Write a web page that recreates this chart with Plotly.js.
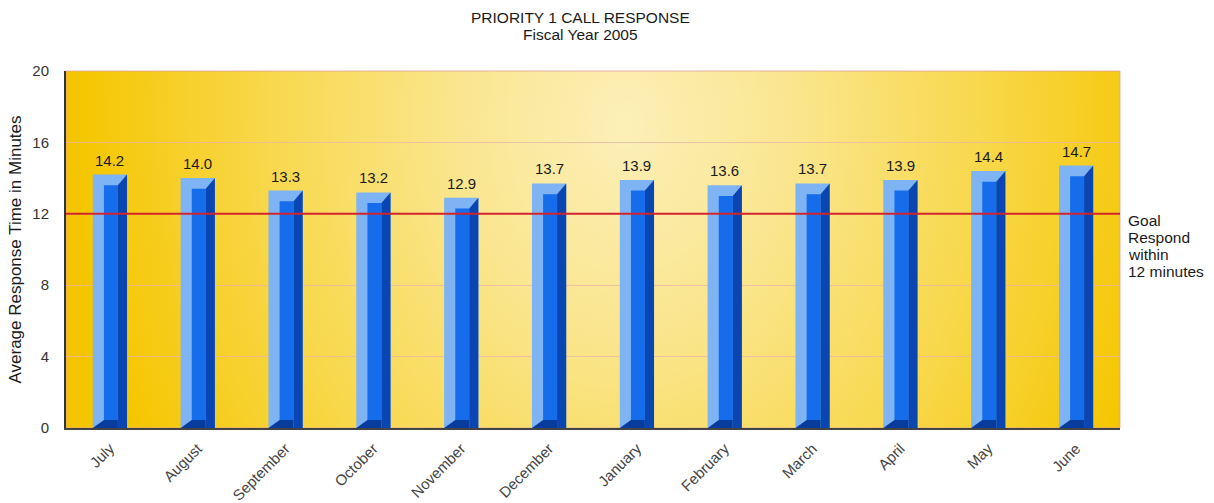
<!DOCTYPE html>
<html>
<head>
<meta charset="utf-8">
<script src="https://cdn.plot.ly/plotly-3.0.1.min.js"></script>
<style>html,body{margin:0;padding:0;background:#fff;}#chart{width:1214px;height:503px;}</style>
</head>
<body>
<div id="chart"></div>
<script>
var months = ["July","August","September","October","November","December","January","February","March","April","May","June"];
var responseTimes = [14.2, 14.0, 13.3, 13.2, 12.9, 13.7, 13.9, 13.6, 13.7, 13.9, 14.4, 14.7];
var goalMinutes = 12;
var yTicks = [0, 4, 8, 12, 16, 20];
var titleLines = ["PRIORITY 1 CALL RESPONSE", "Fiscal Year 2005"];
var goalLines = ["Goal", "Respond", "within", "12 minutes"];
var yTitle = "Average Response Time in Minutes";

// background gradient for the plot area
function makeGradient(w, h) {
  var c = document.createElement('canvas');
  c.width = w; c.height = h;
  var g = c.getContext('2d');
  g.fillStyle = '#F5C500';
  g.fillRect(0, 0, w, h);
  g.save();
  g.translate(w * 0.53, h * 0.15);
  g.scale(1.0, 1.25);
  var r = g.createRadialGradient(0, 0, 0, 0, 0, w * 0.52);
  r.addColorStop(0, '#FCEFB8');
  r.addColorStop(0.3, '#FAE690');
  r.addColorStop(0.65, '#F8D84C');
  r.addColorStop(1, '#F5C600');
  g.fillStyle = r;
  g.fillRect(-w, -h * 2, w * 3, h * 5);
  g.restore();
  return c.toDataURL('image/png');
}

var xs = months.map(function (m, i) { return i; });
var HALF = 0.195, FL = -0.068, FR = 0.091, TOP = 0.6, BOT = 0.45;

var frontX = [], frontY = [], sideX = [], sideY = [], botX = [], botY = [];
xs.forEach(function (x, i) {
  var v = responseTimes[i];
  frontX.push(x + FL, x + FR, x + FR, x + FL, x + FL, null);
  frontY.push(BOT, BOT, v - TOP, v - TOP, BOT, null);
  sideX.push(x + FR, x + HALF, x + HALF, x + FR, x + FR, null);
  sideY.push(0, 0, v, v - TOP, 0, null);
  botX.push(x - HALF, x + FR, x + FR, x + FL, x - HALF, null);
  botY.push(0, 0, BOT, BOT, 0, null);
});

var font = 'Liberation Sans, Arial, sans-serif';

var traces = [
  { type: 'bar', x: xs, y: responseTimes, width: 2 * HALF, offset: -HALF,
    marker: { color: '#7EB3F4', line: { width: 0 } }, hoverinfo: 'y', showlegend: false },
  { type: 'scatter', mode: 'lines', x: frontX, y: frontY, fill: 'toself',
    fillcolor: '#166DEB', line: { width: 0, color: '#166DEB' }, hoverinfo: 'skip', showlegend: false },
  { type: 'scatter', mode: 'lines', x: sideX, y: sideY, fill: 'toself',
    fillcolor: '#0A46B2', line: { width: 0, color: '#0A46B2' }, hoverinfo: 'skip', showlegend: false },
  { type: 'scatter', mode: 'lines', x: botX, y: botY, fill: 'toself',
    fillcolor: '#083C9C', line: { width: 0, color: '#083C9C' }, hoverinfo: 'skip', showlegend: false }
];

var annotations = [
  { text: titleLines[0], xref: 'paper', yref: 'paper', x: 0.4877, y: 1.151, xanchor: 'center', yanchor: 'middle',
    showarrow: false, font: { family: font, size: 15.5, color: '#1a1a1a' } },
  { text: titleLines[1], xref: 'paper', yref: 'paper', x: 0.4877, y: 1.101, xanchor: 'center', yanchor: 'middle',
    showarrow: false, font: { family: font, size: 15.5, color: '#1a1a1a' } }
];
goalLines.forEach(function (t, k) {
  annotations.push({ text: t, xref: 'paper', yref: 'y', x: 1.0055, y: goalMinutes - 0.35 - 0.96 * k,
    xanchor: 'left', yanchor: 'middle', align: 'left', showarrow: false,
    font: { family: font, size: 15.5, color: '#1a1a1a' } });
});
xs.forEach(function (x, i) {
  annotations.push({ text: responseTimes[i].toFixed(1), xref: 'x', yref: 'y', x: x, y: responseTimes[i],
    xanchor: 'center', yanchor: 'bottom', yshift: 4, showarrow: false,
    font: { family: font, size: 15, color: '#1a1a1a' } });
});

var layout = {
  width: 1214, height: 503,
  margin: { l: 66, r: 94, t: 71, b: 75 },
  paper_bgcolor: '#ffffff',
  plot_bgcolor: '#F5C500',
  barmode: 'overlay',
  font: { family: font, size: 15, color: '#333' },
  xaxis: {
    range: [-0.5, 11.5], tickmode: 'array', tickvals: xs, ticktext: months,
    tickangle: -45, showgrid: false, zeroline: false,
    showline: true, linecolor: '#444', linewidth: 2, ticks: '',
    ticklabelstandoff: 4,
    tickfont: { family: font, size: 15, color: '#444' }, fixedrange: true
  },
  yaxis: {
    range: [0, 20], tickmode: 'array', tickvals: yTicks,
    showgrid: true, gridcolor: 'rgba(235,180,170,0.75)', gridwidth: 1,
    zeroline: false, showline: true, linecolor: '#333', linewidth: 2, ticks: '',
    ticklabelstandoff: 12,
    tickfont: { family: font, size: 15, color: '#333' },
    title: { text: yTitle, standoff: 6,
      font: { family: font, size: 17, color: '#1a1a1a' } },
    fixedrange: true
  },
  images: [{ source: makeGradient(1054, 357), xref: 'paper', yref: 'paper', x: 0, y: 1,
    sizex: 1, sizey: 1, sizing: 'stretch', xanchor: 'left', yanchor: 'top', layer: 'below' }],
  shapes: [
    { type: 'rect', xref: 'paper', yref: 'paper', x0: 0, x1: 1, y0: 0, y1: 1,
      line: { color: 'rgba(220,160,160,0.8)', width: 1 }, layer: 'below' },
    { type: 'line', xref: 'paper', yref: 'y', x0: 0, x1: 1, y0: goalMinutes, y1: goalMinutes,
      line: { color: '#D3242E', width: 2 }, layer: 'above' }
  ],
  annotations: annotations
};

Plotly.newPlot('chart', traces, layout, { displayModeBar: false, staticPlot: true });
</script>
</body>
</html>
